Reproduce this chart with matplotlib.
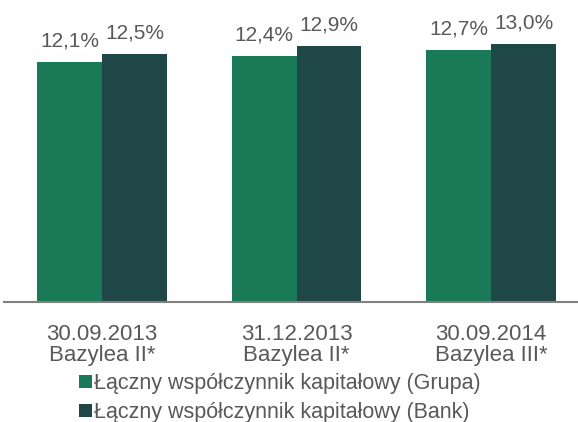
import numpy as np
import matplotlib.pyplot as plt
from matplotlib.patches import Patch

plt.rcParams['font.family'] = ['Liberation Sans', 'DejaVu Sans']

# chart data
categories = ['30.09.2013\nBazylea II*', '31.12.2013\nBazylea II*', '30.09.2014\nBazylea III*']
grupa = [12.1, 12.4, 12.7]
bank = [12.5, 12.9, 13.0]
series_names = ['Łączny współczynnik kapitałowy (Grupa)',
                'Łączny współczynnik kapitałowy (Bank)']

green = '#1a7a57'
dark = '#1f4748'
txt = '#595959'

W, H = 578, 422
fig = plt.figure(figsize=(W / 100, H / 100), dpi=100)
ax = fig.add_axes([4 / W, 120 / H, 573 / W, 302 / H])

x = np.arange(len(categories))
w = 0.334
b1 = ax.bar(x - w / 2, grupa, w, color=green)
b2 = ax.bar(x + w / 2, bank, w, color=dark)

for bars, vals in ((b1, grupa), (b2, bank)):
    for r, v in zip(bars, vals):
        ax.annotate(f'{v:.1f}%'.replace('.', ','),
                    (r.get_x() + r.get_width() / 2, r.get_height()),
                    xytext=(0, 11.5), textcoords='offset points',
                    ha='center', va='baseline', fontsize=15, color=txt)

ax.set_xlim(-0.504, 2.442)
ax.set_ylim(0, 15.23)
ax.set_xticks(x)
ax.set_xticklabels(categories, fontsize=16, color=txt, linespacing=1.0)
ax.tick_params(axis='x', length=0, pad=16)
ax.set_yticks([])
for s in ('top', 'left', 'right'):
    ax.spines[s].set_visible(False)
ax.spines['bottom'].set_color('#808080')
ax.spines['bottom'].set_linewidth(1.5)

handles = [Patch(facecolor=green), Patch(facecolor=dark)]
fig.legend(handles, series_names, loc='upper left',
           bbox_to_anchor=(79 / W, 1 - 373 / H), frameon=False,
           fontsize=15.5, labelcolor=txt, handlelength=0.6, handleheight=0.6,
           handletextpad=0.1, labelspacing=0.37, borderpad=0, borderaxespad=0)

fig.savefig('out.png', dpi=100)
